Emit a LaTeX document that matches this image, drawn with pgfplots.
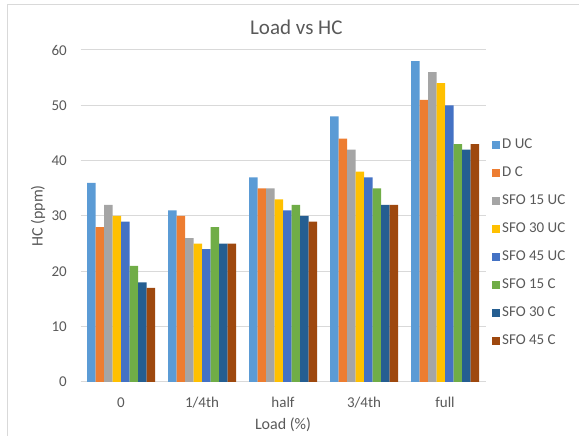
\documentclass[border=0pt]{standalone}
\usepackage{pgfplots}
\pgfplotsset{compat=1.18}
\usepackage{fontspec}
\setmainfont{Carlito}
\definecolor{c1}{HTML}{5B9BD5}
\definecolor{c2}{HTML}{ED7D31}
\definecolor{c3}{HTML}{A5A5A5}
\definecolor{c4}{HTML}{FFC000}
\definecolor{c5}{HTML}{4472C4}
\definecolor{c6}{HTML}{70AD47}
\definecolor{c7}{HTML}{255E91}
\definecolor{c8}{HTML}{9E480E}
\definecolor{gridc}{HTML}{D9D9D9}
\definecolor{txt}{HTML}{595959}
\begin{document}
\begin{tikzpicture}
\path[use as bounding box] (0pt,0pt) rectangle (579pt,436pt);
\draw[gridc, line width=1pt] (7.5pt,-2pt) -- (7.5pt,431pt) -- (581pt,431pt);
\begin{axis}[
  at={(80.5pt,54pt)}, anchor=south west,
  scale only axis, width=405pt, height=332pt,
  ybar=0pt, bar width=8.5pt,
  xmin=-0.5, xmax=4.5, ymin=0, ymax=60,
  xtick={0,1,2,3,4},
  xticklabels={0,1/4th,half,3/4th,full},
  ytick={0,10,20,30,40,50,60},
  major tick length=0pt,
  axis x line*=bottom,
  axis y line*=left,
  x axis line style={draw=gridc, line width=1pt, -},
  y axis line style={draw=none},
  ymajorgrids, grid style={draw=gridc, line width=1pt},
  /pgf/number format/assume math mode=true,
  tick label style={font=\fontsize{15}{18}\selectfont, text=txt},
  xticklabel style={anchor=north, inner sep=0pt, text height=10pt, text depth=3pt, yshift=-15.75pt},
  yticklabel style={anchor=east, inner sep=0pt, xshift=-13.5pt},
  title={Load vs HC},
  title style={font=\fontsize{21}{25}\selectfont, text=txt, at={(axis description cs:0.533,1.051)}, anchor=center},
  xlabel={Load (\%)},
  xlabel style={font=\fontsize{16}{19}\selectfont, text=txt, at={(axis description cs:0.5,-0.1295)}, anchor=center},
  ylabel={HC (ppm)},
  ylabel style={font=\fontsize{16}{19}\selectfont, text=txt, at={(axis description cs:-0.105,0.5)}, anchor=center},
  legend style={draw=none, fill=none, at={(axis description cs:1.016,0.42)}, anchor=west,
    font=\fontsize{15}{18}\selectfont, text=txt, inner sep=0pt,
    nodes={inner sep=2pt, text height=10pt, text depth=2pt}, row sep=12pt},
  legend cell align=left,
  legend image code/.code={\fill[#1] (0pt,-4pt) rectangle (8pt,4pt);},
  every axis plot/.append style={draw=none},
]
\addplot[fill=c1] coordinates {(0,36) (1,31) (2,37) (3,48) (4,58)};
\addplot[fill=c2] coordinates {(0,28) (1,30) (2,35) (3,44) (4,51)};
\addplot[fill=c3] coordinates {(0,32) (1,26) (2,35) (3,42) (4,56)};
\addplot[fill=c4] coordinates {(0,30) (1,25) (2,33) (3,38) (4,54)};
\addplot[fill=c5] coordinates {(0,29) (1,24) (2,31) (3,37) (4,50)};
\addplot[fill=c6] coordinates {(0,21) (1,28) (2,32) (3,35) (4,43)};
\addplot[fill=c7] coordinates {(0,18) (1,25) (2,30) (3,32) (4,42)};
\addplot[fill=c8] coordinates {(0,17) (1,25) (2,29) (3,32) (4,43)};
\legend{D UC, D C, SFO 15 UC, SFO 30 UC, SFO 45 UC, SFO 15 C, SFO 30 C, SFO 45 C}
\end{axis}
\end{tikzpicture}
\end{document}
